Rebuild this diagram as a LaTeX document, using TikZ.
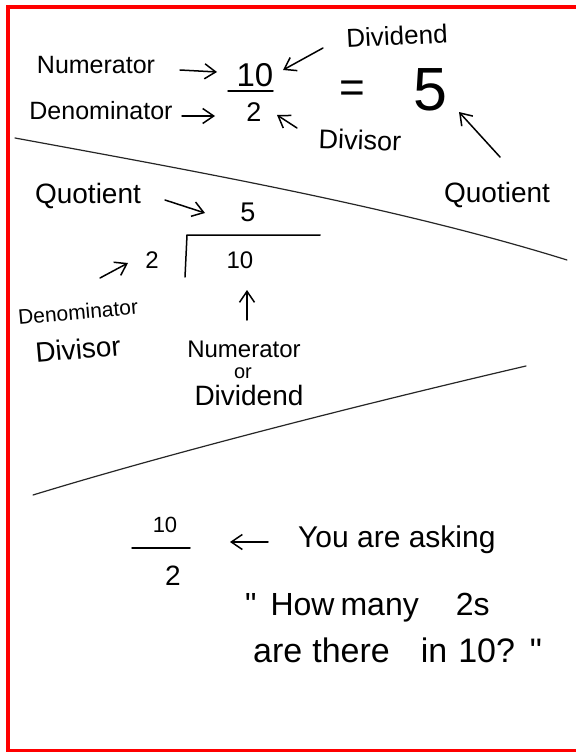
\documentclass[tikz,border=0pt]{standalone}
\usepackage{fontspec}
\setmainfont{Liberation Sans}[Ligatures=TeXOff]
\usetikzlibrary{arrows.meta}
\begin{document}
\begin{tikzpicture}[x=1pt,y=-1pt,
  lbl/.style={inner sep=0pt,font=\fontsize{#1pt}{#1pt}\selectfont},
  arr/.style={-{Straight Barb[length=11pt,width=15pt,line width=1.5pt]},line width=1.5pt,line cap=round},
  pen/.style={line width=1.5pt,line cap=round},
  divider/.style={line width=1.2pt,line cap=round,black!85}]
\useasboundingbox (0,0) rectangle (576,752);
\fill[white] (0,0) rectangle (576,752);
% red frame
\draw[red,line width=4pt] (6,7) -- (576,7);
\draw[red,line width=4pt] (8,5) -- (8,752);
\draw[red,line width=3pt] (6,750.5) -- (576,750.5);

% ---- top section ----
\node[lbl=26,rotate=3] (divT) at (397,36) {Dividend};
\node[lbl=25] (numL) at (96,65) {Numerator};
\node[lbl=33] (n10) at (255,75) {10};
\draw[pen] (228,91) -- (273,91);
\node[lbl=27] (n2) at (254,112) {2};
\node[lbl=25] (denL) at (101,111) {Denominator};
\node[lbl=44] (eq) at (352,92) {=};
\node[lbl=61] (n5) at (430,90) {5};
\node[lbl=27,rotate=-2] (divisorT) at (360,140) {Divisor};
\node[lbl=28] (quoR) at (497,195) {Quotient};

\draw[arr] ([shift={(84,5)}]numL.center) -- ([shift={(-38,-3)}]n10.center);
\draw[arr] ([shift={(-74,12)}]divT.center) -- ([shift={(28,-5)}]n10.center);
\draw[arr] ([shift={(81,5)}]denL.center) -- ([shift={(-39,4)}]n2.center);
\draw[arr] ([shift={(-63,-12)}]divisorT.center) -- ([shift={(23,3)}]n2.center);
\draw[arr] ([shift={(3,-38)}]quoR.center) -- ([shift={(29,22)}]n5.center);

% divider 1
\draw[divider] (15,138) .. controls (200,172) and (400,208) .. (567,260);

% ---- long division ----
\node[lbl=28] (quoL) at (88,196) {Quotient};
\node[lbl=27] (n5b) at (248,212) {5};
\draw[pen] (320,235) -- (187,235) -- (185,277);
\node[lbl=24] (n2b) at (152,260) {2};
\node[lbl=24] (n10b) at (240,260) {10};
\node[lbl=21,rotate=5] (denS) at (78,312) {Denominator};
\node[lbl=28,rotate=5] (divS) at (78,349) {Divisor};
\node[lbl=24] (numS) at (244,349) {Numerator};
\node[lbl=20] (orS) at (243,373) {or};
\node[lbl=28] (dvdS) at (249,395) {Dividend};

\draw[arr] ([shift={(77,4)}]quoL.center) -- ([shift={(-43,1)}]n5b.center);
\draw[arr] ([shift={(22,-34)}]denS.center) -- ([shift={(-24,3)}]n2b.center);
\draw[arr] ([shift={(3,-29)}]numS.center) -- ([shift={(7,30)}]n10b.center);

% divider 2
\draw[divider] (33,495) .. controls (180,450) and (380,400) .. (526,366);

% ---- bottom ----
\node[lbl=22] (n10c) at (165,525) {10};
\draw[pen] (132,548) -- (190,548);
\node[lbl=28] (n2c) at (173,576) {2};
\node[lbl=30,anchor=base west] (ask) at (298,547) {You are asking};
\node[lbl=32,anchor=base west] (how) at (245,615) {"\hspace{14pt}How\hspace{6pt}many\hspace{37pt}2s};
\node[lbl=34,anchor=base west] (there) at (253,662) {are\hspace{10pt}there\hspace{31pt}in\hspace{11pt}10?\hspace{15pt}"};
\draw[arr] ([shift={(-30,-5)}]ask.base west) -- ([shift={(65,17)}]n10c.center);
\end{tikzpicture}
\end{document}
